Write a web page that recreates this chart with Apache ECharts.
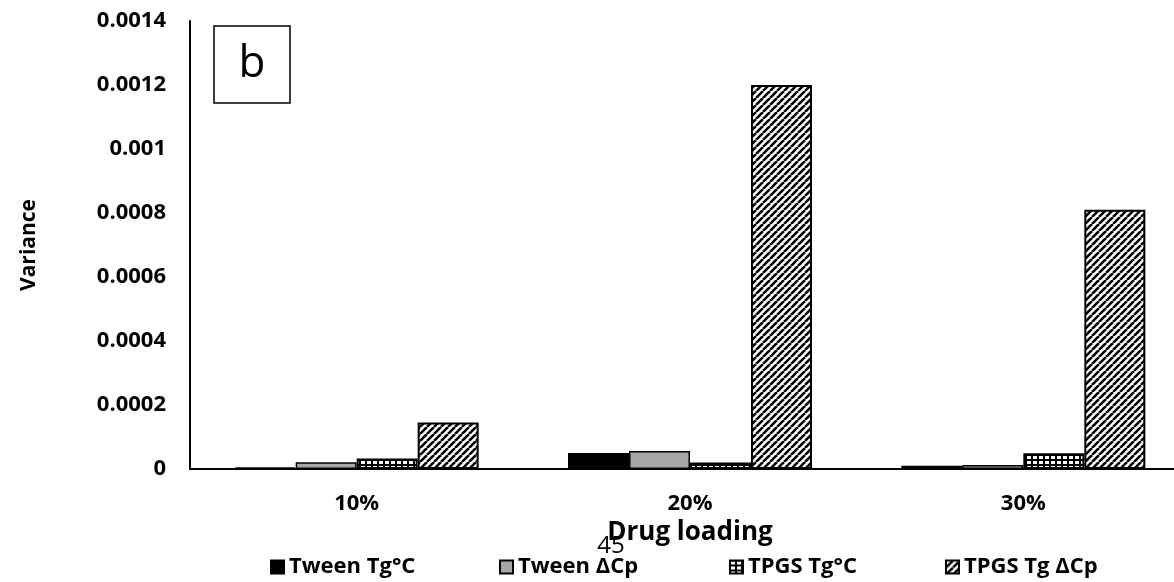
<!DOCTYPE html>
<html>
<head>
<meta charset="utf-8">
<script src="https://cdn.jsdelivr.net/npm/echarts@6/dist/echarts.min.js"></script>
<style>
  html, body { margin: 0; padding: 0; background: #fff; overflow: hidden; }
  #chart { width: 1190px; height: 582px; }
</style>
</head>
<body>
<div id="chart"></div>
<script>
// Drug-loading groups and the variance of each measured quantity
const categories = ['10%', '20%', '30%'];
const seriesNames = ['Tween Tg°C', 'Tween ΔCp', 'TPGS Tg°C', 'TPGS Tg ΔCp'];
const tweenTg = [0.000004, 0.00005, 0.00001];
const tweenCp = [0.000021, 0.000056, 0.0000125];
const tpgsTg = [0.000033, 0.00002, 0.000049];
const tpgsCp = [0.000145, 0.0012, 0.00081];
const yTickLabels = ['0', '0.0002', '0.0004', '0.0006', '0.0008', '0.001', '0.0012', '0.0014'];
const yStep = 0.0002;

const FONT = '"Open Sans", "DejaVu Sans", sans-serif';

// Small grid of white cells on black (dotted fill)
function dotPattern() {
  const c = document.createElement('canvas');
  c.width = 6; c.height = 5;
  const g = c.getContext('2d');
  g.fillStyle = '#000';
  g.fillRect(0, 0, 6, 5);
  g.fillStyle = '#fff';
  g.fillRect(1, 1, 4, 3);
  return c;
}

// Wide upward diagonal hatch
function hatchPattern() {
  const s = 7;
  const c = document.createElement('canvas');
  c.width = s; c.height = s;
  const g = c.getContext('2d');
  g.fillStyle = '#fff';
  g.fillRect(0, 0, s, s);
  g.strokeStyle = '#000';
  g.lineWidth = 2.6;
  g.beginPath();
  for (const k of [-s, 0, s]) {
    g.moveTo(k, s);
    g.lineTo(k + s, 0);
  }
  g.stroke();
  return c;
}

const fills = [
  '#000000',
  '#a6a6a6',
  { image: dotPattern(), repeat: 'repeat' },
  { image: hatchPattern(), repeat: 'repeat' }
];
const values = [tweenTg, tweenCp, tpgsTg, tpgsCp];
const legendLefts = [265, 494, 724, 940];

const chart = echarts.init(document.getElementById('chart'), null, { renderer: 'canvas' });

chart.setOption({
  animation: false,
  backgroundColor: '#fff',
  grid: { left: 190, top: 21, right: 0, height: 448, containLabel: false },
  legend: seriesNames.map((name, i) => ({
    data: [name],
    left: legendLefts[i],
    bottom: -1,
    icon: 'rect',
    itemWidth: 13,
    itemHeight: 13,
    textStyle: { fontFamily: FONT, fontWeight: 'bold', fontSize: 22, color: '#000' }
  })),
  xAxis: {
    type: 'category',
    data: categories,
    axisLine: { lineStyle: { color: '#000', width: 2 } },
    axisTick: { show: false },
    axisLabel: { fontFamily: FONT, fontWeight: 'bold', fontSize: 22, color: '#000', margin: 24 },
    name: 'Drug loading',
    nameLocation: 'middle',
    nameGap: 45,
    nameTextStyle: { fontFamily: FONT, fontWeight: 'bold', fontSize: 26, color: '#000' }
  },
  yAxis: {
    type: 'value',
    min: 0,
    max: 0.0014,
    interval: yStep,
    splitLine: { show: false },
    axisLine: { show: true, lineStyle: { color: '#000', width: 2 } },
    axisTick: { show: false },
    axisLabel: {
      fontFamily: FONT, fontWeight: 'bold', fontSize: 22, color: '#000', margin: 24,
      formatter: v => yTickLabels[Math.round(v / yStep)]
    },
    name: 'Variance',
    nameLocation: 'middle',
    nameRotate: 90,
    nameGap: 150,
    nameTextStyle: { fontFamily: FONT, fontWeight: 'bold', fontSize: 21, color: '#000' }
  },
  series: seriesNames.map((name, i) => ({
    name,
    type: 'bar',
    data: values[i],
    barWidth: 61,
    barGap: '0%',
    itemStyle: { color: fills[i], borderColor: '#000', borderWidth: i === 1 ? 1.5 : 2 }
  })),
  graphic: [
    {
      type: 'rect',
      shape: { x: 214, y: 26, width: 76, height: 77 },
      style: { fill: '#fff', stroke: '#000', lineWidth: 1.5 },
      z: 10
    },
    {
      type: 'text',
      x: 252, y: 64,
      style: { text: 'b', fontFamily: FONT, fontSize: 44, fill: '#000', align: 'center', verticalAlign: 'middle' },
      z: 11
    },
    {
      type: 'text',
      x: 611, y: 546,
      style: { text: '45', fontFamily: FONT, fontSize: 24, fill: '#000', align: 'center', verticalAlign: 'middle' },
      z: 11
    }
  ]
});
</script>
</body>
</html>
